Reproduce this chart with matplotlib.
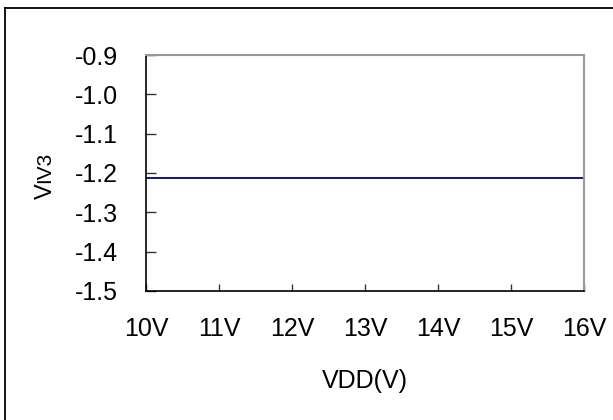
import matplotlib
matplotlib.use("Agg")
import matplotlib.pyplot as plt
from matplotlib.lines import Line2D

# data
vdd = [10, 11, 12, 13, 14, 15, 16]
viv3 = [-1.212, -1.212, -1.212, -1.212, -1.212, -1.212, -1.212]
x_labels = ['10V', '11V', '12V', '13V', '14V', '15V', '16V']
y_ticks = [-0.9, -1.0, -1.1, -1.2, -1.3, -1.4, -1.5]

plt.rcParams['font.family'] = ['Liberation Sans', 'DejaVu Sans']

W, H = 613, 420
fig = plt.figure(figsize=(W / 100, H / 100), dpi=100)
ax = fig.add_axes([146 / W, 1 - 291 / H, (584 - 146) / W, (291 - 55) / H])

ax.plot(vdd, viv3, color='#000080', linewidth=1.3)

ax.set_xlim(10, 16)
ax.set_ylim(-1.5, -0.9)
ax.set_xticks(vdd)
ax.set_xticklabels(x_labels)
ax.set_yticks(y_ticks)
ax.set_yticklabels([f'{v:.1f}' for v in y_ticks])

ax.tick_params(axis='x', direction='in', length=5, width=1, color='#333333',
               labelsize=18, pad=19)
ax.tick_params(axis='y', direction='in', length=7, width=1, color='#333333',
               labelsize=18, pad=20)

for side in ['left', 'bottom']:
    ax.spines[side].set_color('black')
    ax.spines[side].set_linewidth(1.2)
for side in ['top', 'right']:
    ax.spines[side].set_color('#999999')
    ax.spines[side].set_linewidth(1.5)

ax.set_xlabel('VDD(V)', fontsize=18, labelpad=20)

# y label: big "V" followed by smaller "IV3", tops aligned
fig.text(35 / W, 1 - 199 / H, 'V', rotation=90, fontsize=17,
         ha='left', va='bottom')
fig.text(35 / W, 1 - 183 / H, 'IV3', rotation=90, fontsize=15,
         ha='left', va='bottom')

# outer chart frame (only top and left edge visible)
fig.add_artist(Line2D([4.5 / W, 4.5 / W], [0, 1 - 8 / H],
                      transform=fig.transFigure, color='black', linewidth=1.3))
fig.add_artist(Line2D([4.5 / W, 1], [1 - 8 / H, 1 - 8 / H],
                      transform=fig.transFigure, color='black', linewidth=1.3))

fig.savefig('out.png', dpi=100)
